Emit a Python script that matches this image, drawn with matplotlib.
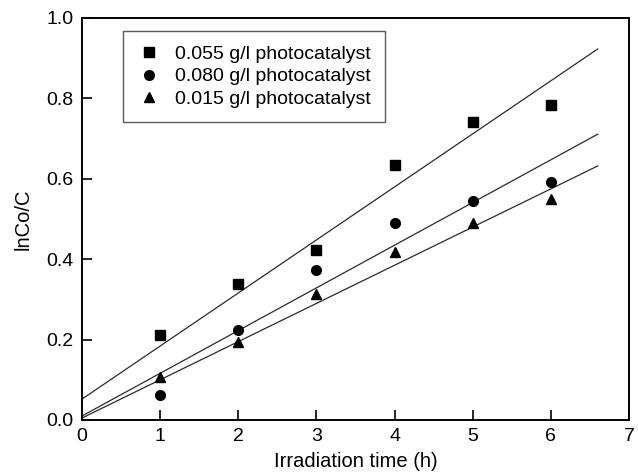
import numpy as np
import matplotlib
matplotlib.use("Agg")
import matplotlib.pyplot as plt

plt.rcParams['font.family'] = ['Liberation Sans', 'DejaVu Sans']

# Data
time_h = [1, 2, 3, 4, 5, 6]
c055 = [0.211, 0.338, 0.423, 0.634, 0.741, 0.784]
c080 = [0.062, 0.224, 0.373, 0.490, 0.545, 0.592]
c015 = [0.107, 0.194, 0.313, 0.418, 0.490, 0.550]

labels = ['0.055 g/l photocatalyst', '0.080 g/l photocatalyst', '0.015 g/l photocatalyst']

# Fitted lines: values at start (x=0) and end (x=6.6)
fit_x = [0, 6.6]
fit_055 = [0.052, 0.923]
fit_080 = [0.010, 0.711]
fit_015 = [0.005, 0.632]

fig = plt.figure(figsize=(6.38, 4.75), dpi=100)
ax = fig.add_axes([82 / 638, 1 - 420 / 475, (629 - 82) / 638, (420 - 18) / 475])

for fy in (fit_055, fit_080, fit_015):
    ax.plot(fit_x, fy, color='#2a2a2a', lw=0.9)

ax.plot(time_h, c055, 's', color='black', ms=6.5, label=labels[0], clip_on=False)
ax.plot(time_h, c080, 'o', color='black', ms=7, label=labels[1], clip_on=False)
ax.plot(time_h, c015, '^', color='black', ms=7.5, label=labels[2], clip_on=False)

ax.set_xlim(0, 7)
ax.set_ylim(0, 1.0)
ax.set_xticks(range(0, 8))
ax.set_yticks([0.0, 0.2, 0.4, 0.6, 0.8, 1.0])
ax.set_yticklabels(['0.0', '0.2', '0.4', '0.6', '0.8', '1.0'])
ax.tick_params(direction='in', length=7, width=1.2, labelsize=14, pad=6)
ax.tick_params(axis='both', which='both', top=False, right=False)
for s in ax.spines.values():
    s.set_linewidth(1.4)

ax.set_xlabel('Irradiation time (h)', fontsize=14.5, labelpad=5)
ax.set_ylabel('lnCo/C', fontsize=14.5, labelpad=10)

leg = ax.legend(loc='upper left', bbox_to_anchor=(0.075, 0.968), fontsize=14,
                frameon=True, fancybox=False, edgecolor='#333333',
                handletextpad=0.7, borderpad=0.75, labelspacing=0.24,
                handlelength=1.2, borderaxespad=0)
leg.get_frame().set_linewidth(1.0)

fig.savefig('out.png', dpi=100)
